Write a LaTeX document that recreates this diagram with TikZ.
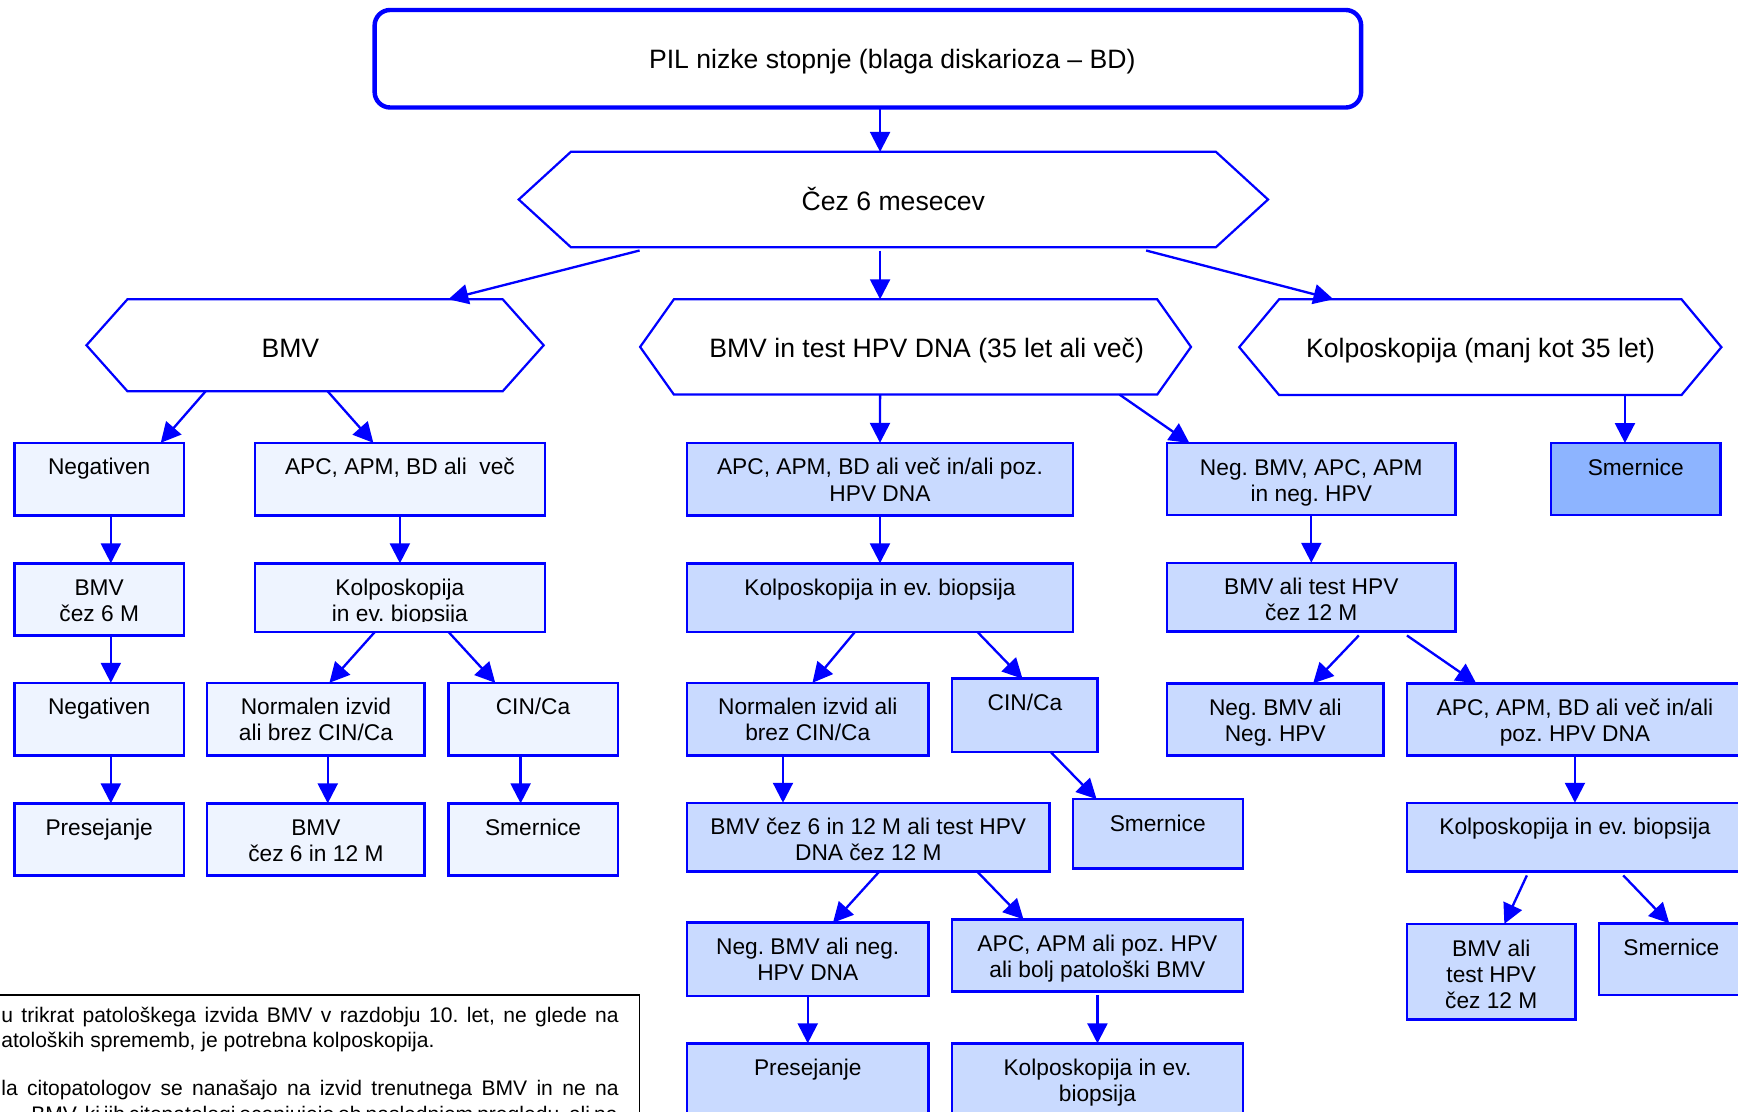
\documentclass[tikz,border=0pt]{standalone}
\usepackage{fontspec}
\setmainfont{Liberation Sans}
\usetikzlibrary{arrows.meta}
\frenchspacing

\definecolor{flowblue}{RGB}{0,0,255}
\definecolor{palefill}{RGB}{238,244,255}
\definecolor{lightfill}{RGB}{201,218,255}
\definecolor{strongfill}{RGB}{141,180,255}

\tikzset{
  stepbox/.style={draw=flowblue, line width=2.2pt, rectangle, anchor=north west,
    inner sep=0pt, outer sep=0pt},
  boxtext/.style={font=\fontsize{20.5}{23.5}\selectfont, inner sep=0pt, anchor=base},
  hexcore/.style={rectangle, anchor=north west, inner sep=0pt, outer sep=0pt},
  hexline/.style={draw=flowblue, line width=2pt},
  headtext/.style={font=\fontsize{24}{28}\selectfont, inner sep=0pt, anchor=base},
  flow/.style={draw=flowblue, line width=2.1pt, -{Triangle[length=18pt,width=18pt]}},
  notetext/.style={font=\fontsize{19}{22}\selectfont, inner sep=0pt, anchor=base west},
}

% centred lines whose baseline is the first line
\newcommand\mlines[1]{\begin{tabular}[t]{@{}c@{}}#1\end{tabular}}

% rectangular step: name, x1, y1, x2, y2, fill, text
\newcommand\flowbox[7]{%
  \node[stepbox, fill=#6, minimum width={#4-#2}, minimum height={#5-#3}] (#1) at (#2,#3) {};
  \node[boxtext] (#1-label) at ([yshift=-29pt]#1.north) {\mlines{#7}};}

% hexagonal decision: name, x1, y1, x2, y2 of the flat part, point depth
\newcommand\hexbox[6]{%
  \node[hexcore, minimum width={#4-#2}, minimum height={#5-#3}] (#1) at (#2,#3) {};
  \draw[hexline] (#1.north west) -- (#1.north east) -- ([xshift=#6pt]#1.east)
    -- (#1.south east) -- (#1.south west) -- ([xshift=-#6pt]#1.west) -- cycle;}

\begin{document}
\begin{tikzpicture}[x=1pt, y=-1pt]
\useasboundingbox (0,0) rectangle (1568,1003);
\clip (0,0) rectangle (1568,1003);
\fill[white] (0,0) rectangle (1568,1003);

% ---- start ----
\node[draw=flowblue, line width=4pt, rounded corners=14pt, anchor=north west,
  inner sep=0pt, outer sep=0pt, minimum width=890, minimum height=88] (top) at (338,9) {};
\node[headtext] (top-label) at (805,62) {PIL nizke stopnje (blaga diskarioza – BD)};

\hexbox{cez}{515}{137}{1097}{223}{47}
\node[headtext] (cez-label) at (806,189.5) {Čez 6 mesecev};

\hexbox{bmv}{115}{270}{453.5}{353}{37}
\node[headtext] (bmv-label) at (262,322.4) {BMV};
\hexbox{mid}{608}{270}{1044}{356}{30.5}
\node[headtext] (mid-label) at (836,322.4) {BMV in test HPV DNA (35 let ali več)};
\hexbox{rgt}{1154}{270}{1517}{356.4}{36}
\node[headtext] (rgt-label) at (1335.8,322.2) {Kolposkopija (manj kot 35 let)};

% ---- BMV branch ----
\flowbox{neg1}{13.2}{399.5}{165.8}{465.2}{palefill}{Negativen}
\flowbox{apc1}{230}{399.5}{491.6}{465.2}{palefill}{APC, APM, BD ali\ \ več}
\flowbox{bmv6}{13.2}{508.2}{165.8}{573.5}{palefill}{BMV\\čez 6 M}
\node[stepbox, fill=palefill, minimum width={491.6-230}, minimum height={570-508.2}] (kolp1) at (230,508.2) {};
\begin{scope}
  \clip (230,508.2) rectangle (491.6,560.5);
  \node[boxtext] (kolp1-label) at ([yshift=-29pt]kolp1.north) {\mlines{Kolposkopija\\in ev. biopsija}};
\end{scope}
\flowbox{neg2}{13.2}{616}{165.8}{681.5}{palefill}{Negativen}
\flowbox{norm1}{187}{616}{383}{681.5}{palefill}{Normalen izvid\\ali brez CIN/Ca}
\flowbox{cin1}{404.5}{616}{557.3}{681.5}{palefill}{CIN/Ca}
\flowbox{pres1}{13.2}{724.8}{165.8}{790}{palefill}{Presejanje}
\flowbox{bmv612}{187}{724.8}{383}{790}{palefill}{BMV\\čez 6 in 12 M}
\flowbox{smer1}{404.5}{724.8}{557.3}{790}{palefill}{Smernice}

% ---- BMV and HPV branch ----
\flowbox{a2}{619.8}{399.5}{968}{465.2}{lightfill}{APC, APM, BD ali več in/ali poz.\\HPV DNA}
\flowbox{k2}{619.8}{508.2}{968}{570}{lightfill}{Kolposkopija in ev. biopsija}
\flowbox{n2}{619.8}{616}{837.7}{681.5}{lightfill}{Normalen izvid ali\\brez CIN/Ca}
\flowbox{c2}{859}{612.3}{990.3}{678.2}{lightfill}{CIN/Ca}
\flowbox{b2}{619.8}{724.2}{947}{786.4}{lightfill}{BMV čez 6 in 12 M ali test HPV\\DNA čez 12 M}
\flowbox{s2}{967.8}{720.9}{1121.2}{783.4}{lightfill}{Smernice}
\flowbox{nb2}{619.8}{832.4}{837.7}{898.6}{lightfill}{Neg. BMV ali neg.\\HPV DNA}
\flowbox{ap2}{859}{829.4}{1121.2}{894.7}{lightfill}{APC, APM ali poz. HPV\\ali bolj patološki BMV}
\flowbox{p2}{619.8}{941.3}{837.7}{1030}{lightfill}{Presejanje}
\flowbox{k3}{859}{941.3}{1121.2}{1030}{lightfill}{Kolposkopija in ev.\\biopsija}

\flowbox{nba}{1052.8}{399.7}{1313.3}{464.6}{lightfill}{Neg. BMV, APC, APM\\in neg. HPV}
\flowbox{bh}{1052.8}{507.7}{1313.3}{569.8}{lightfill}{BMV ali test HPV\\čez 12 M}
\flowbox{nbh}{1052.8}{616.5}{1248.3}{681.7}{lightfill}{Neg. BMV ali\\Neg. HPV}
\flowbox{ar}{1269.3}{616.5}{1572.5}{681.7}{lightfill}{APC, APM, BD ali več in/ali\\poz. HPV DNA}
\flowbox{kr}{1269.3}{724.2}{1572.5}{786.4}{lightfill}{Kolposkopija in ev. biopsija}
\flowbox{br}{1269.3}{833.5}{1421.5}{919.9}{lightfill}{BMV ali\\test HPV\\čez 12 M}
\flowbox{sr}{1442.8}{833}{1573}{897.9}{lightfill}{Smernice}

% ---- colposcopy branch ----
\flowbox{sm3}{1399.5}{399.7}{1552}{464.6}{strongfill}{Smernice}

% ---- connectors ----
\draw[flow] ([xshift=11pt]top.south) -- ([xshift=-12pt]cez.north);
\draw[flow] ([xshift=-229pt,yshift=-3pt]cez.south) -- ([xshift=120.25pt]bmv.north);
\draw[flow] ([xshift=-12pt,yshift=-3pt]cez.south) -- ([xshift=-32pt]mid.north);
\draw[flow] ([xshift=228pt,yshift=-3pt]cez.south) -- ([xshift=-132.5pt]rgt.north);

\draw[flow] ([xshift=-98.75pt]bmv.south) -- ([xshift=55.5pt]neg1.north);
\draw[flow] ([xshift=11.35pt]bmv.south) -- ([xshift=-24pt]apc1.north);
\draw[flow] ([xshift=-32pt]mid.south) -- (a2.north);
\draw[flow] ([xshift=184pt]mid.south) -- ([xshift=-110pt]nba.north);
\draw[flow] ([xshift=130.5pt]rgt.south) -- ([xshift=-9.75pt]sm3.north);

\draw[flow] ([xshift=10.5pt]neg1.south) -- ([xshift=10.5pt]bmv6.north);
\draw[flow] (apc1.south) -- (kolp1.north);
\draw[flow] ([xshift=10.5pt]bmv6.south) -- ([xshift=10.5pt]neg2.north);
\draw[flow] ([xshift=-22.5pt]kolp1.south) -- ([xshift=12.2pt]norm1.north);
\draw[flow] ([xshift=43.7pt]kolp1.south) -- ([xshift=-34.1pt]cin1.north);
\draw[flow] ([xshift=10.5pt]neg2.south) -- ([xshift=10.5pt]pres1.north);
\draw[flow] ([xshift=10.7pt]norm1.south) -- ([xshift=10.7pt]bmv612.north);
\draw[flow] ([xshift=-11.2pt]cin1.south) -- ([xshift=-11.2pt]smer1.north);

\draw[flow] (a2.south) -- (k2.north);
\draw[flow] ([xshift=-22.5pt]k2.south) -- ([xshift=4.25pt]n2.north);
\draw[flow] ([xshift=87.8pt]k2.south) -- ([xshift=-2.15pt]c2.north);
\draw[flow] ([xshift=-22.35pt]n2.south) -- ([xshift=-77pt]b2.north);
\draw[flow] ([xshift=23pt]c2.south) -- ([xshift=-55.2pt]s2.north);
\draw[flow] ([xshift=9.8pt]b2.south) -- ([xshift=22.75pt]nb2.north);
\draw[flow] ([xshift=98.3pt]b2.south) -- ([xshift=-66.7pt]ap2.north);
\draw[flow] (nb2.south) -- (p2.north);
\draw[flow] ([yshift=-3pt]ap2.south) -- (k3.north);

\draw[flow] (nba.south) -- (bh.north);
\draw[flow] ([xshift=42.85pt,yshift=-3.5pt]bh.south) -- ([xshift=34.15pt]nbh.north);
\draw[flow] ([xshift=86.25pt,yshift=-3.5pt]bh.south) -- ([xshift=-89.1pt]ar.north);
\draw[flow] (ar.south) -- (kr.north);
\draw[flow] ([xshift=-43.4pt,yshift=-3.4pt]kr.south) -- ([xshift=11.8pt]br.north);
\draw[flow] ([xshift=43.6pt,yshift=-3.4pt]kr.south) -- ([xshift=-1.9pt]sr.north);

% ---- footnote panel ----
\node[draw=black, line width=1.3pt, anchor=north west, inner sep=0pt, outer sep=0pt,
  minimum width=587, minimum height=140] (note) at (-10,897.5) {};
\node[notetext] (note-l1) at (1,922.5)
  {\makebox[557pt][s]{u trikrat patološkega izvida BMV v razdobju 10. let, ne glede na}};
\node[notetext] (note-l2) at (1,944.7) {atoloških sprememb, je potrebna kolposkopija.};
\node[notetext] (note-l3) at (1,988.5)
  {\makebox[557pt][s]{la citopatologov se nanašajo na izvid trenutnega BMV in ne na}};
\node[notetext] (note-l4) at (28,1011.5)
  {\makebox[529pt][s]{BMV, ki jih citopatologi ocenjujejo ob naslednjem pregledu, ali na}};
\end{tikzpicture}
\end{document}
